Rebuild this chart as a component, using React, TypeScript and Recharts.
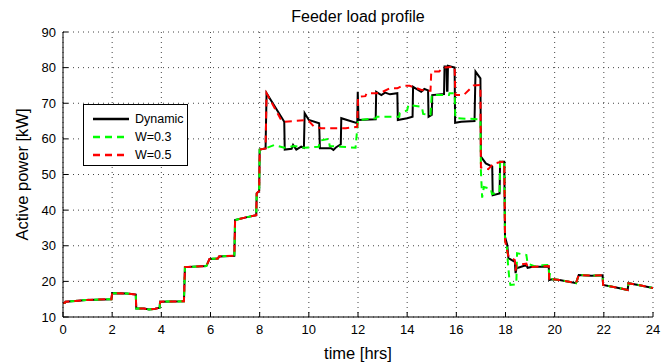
import { LineChart, Line, XAxis, YAxis, CartesianGrid } from 'recharts'

type Pt = [number, number]

// hours on the x axis, kW on the y axis
const hourTicks = [0, 2, 4, 6, 8, 10, 12, 14, 16, 18, 20, 22, 24]
const kwTicks = [10, 20, 30, 40, 50, 60, 70, 80, 90]

// all three strategies give the same load until the morning peak
const sharedMorning: Pt[] = [
    [0, 13.9], [0.08, 14.0], [0.1, 14.3], [0.5, 14.5], [0.95, 14.8], [1.97, 15.0],
    [2.0, 16.7], [2.6, 16.6], [2.96, 16.3], [2.98, 12.4], [3.3, 12.4], [3.5, 12.1],
    [3.75, 12.3], [3.93, 12.6], [3.95, 14.3], [4.92, 14.4], [4.96, 24.0], [5.83, 24.3],
    [5.96, 26.3], [6.3, 26.4], [6.35, 27.0], [6.97, 27.2], [7.0, 37.2], [7.4, 37.9],
    [7.86, 38.6], [7.88, 44.7], [7.98, 45.4], [8.0, 57.0], [8.24, 57.3],
]

const dynamicDay: Pt[] = [
    [8.28, 72.8], [9.0, 64.8], [9.02, 57.0], [9.3, 57.2], [9.36, 58.3], [9.49, 57.0],
    [9.69, 57.8], [9.8, 57.5], [9.83, 67.2], [10.0, 65.3], [10.42, 64.4], [10.45, 57.4],
    [10.9, 57.4], [11.0, 56.9], [11.1, 57.6], [11.3, 58.5], [11.32, 65.8], [11.97, 64.4],
    [11.99, 73.2], [12.02, 65.3], [12.72, 65.5], [12.74, 73.2], [12.95, 72.3], [13.1, 73.0],
    [13.3, 72.5], [13.6, 72.8], [13.62, 65.3], [14.0, 65.8], [14.22, 66.2], [14.24, 74.6],
    [14.57, 73.2], [14.7, 74.0], [14.85, 73.6], [14.87, 66.2], [15.0, 66.7], [15.02, 72.3],
    [15.5, 72.6], [15.52, 80.3], [15.6, 80.3], [15.62, 73.5], [15.64, 73.5], [15.66, 80.5],
    [15.93, 80.0], [15.95, 64.5], [16.2, 64.8], [16.74, 65.0], [16.78, 78.9], [16.98, 77.0],
    [17.0, 55.0], [17.2, 53.1], [17.46, 52.2], [17.48, 44.2], [17.76, 44.7], [17.78, 53.6],
    [17.95, 53.6], [17.98, 32.5], [18.07, 30.2], [18.12, 26.5], [18.38, 25.5], [18.41, 22.3],
    [18.45, 23.7], [18.85, 24.6], [18.9, 23.8], [19.1, 24.1], [19.76, 24.1], [19.78, 20.4],
]

const w03Day: Pt[] = [
    [8.3, 57.5], [8.6, 58.3], [9.0, 57.5], [9.4, 58.0], [9.8, 57.5], [10.4, 57.8],
    [10.45, 59.5], [10.8, 60.0], [10.85, 58.0], [11.3, 57.8], [11.9, 57.5], [12.0, 65.3],
    [12.74, 65.8], [12.76, 66.2], [13.68, 66.2], [13.7, 67.2], [14.0, 68.0], [14.05, 69.5],
    [14.6, 69.0], [14.65, 67.0], [14.95, 66.8], [15.0, 72.3], [15.7, 72.3], [15.72, 72.8],
    [15.93, 72.8], [15.96, 65.8], [16.98, 65.5], [17.0, 51.0], [17.05, 43.5], [17.12, 46.5],
    [17.4, 46.0], [17.45, 44.5], [17.76, 45.0], [17.78, 53.6], [17.95, 53.6], [17.98, 31.0],
    [18.05, 30.5], [18.1, 25.0], [18.16, 20.4], [18.2, 19.0], [18.44, 19.2], [18.47, 27.9],
    [18.85, 27.4], [18.9, 25.0], [19.2, 24.2], [19.5, 24.5], [19.76, 24.6], [19.78, 20.4],
    [19.8, 22.3], [19.86, 20.6],
]

const w05Day: Pt[] = [
    [8.28, 72.8], [8.9, 65.0], [9.0, 64.8], [9.8, 65.2], [10.0, 65.0], [10.2, 63.5],
    [10.5, 63.0], [11.5, 63.0], [11.97, 63.4], [12.0, 71.8], [12.3, 72.0], [12.35, 72.8],
    [12.75, 72.8], [13.0, 73.2], [13.3, 74.2], [13.6, 74.2], [13.8, 74.9], [14.1, 74.9],
    [14.4, 74.2], [14.6, 73.7], [14.95, 73.5], [14.98, 78.9], [15.3, 78.9], [15.45, 80.0],
    [15.93, 80.2], [15.96, 72.3], [16.3, 72.3], [16.7, 75.0], [16.98, 75.1], [17.0, 52.0],
    [17.3, 51.5], [17.5, 53.0], [17.8, 53.5], [17.95, 53.6], [17.98, 31.5], [18.07, 28.5],
    [18.12, 27.0], [18.38, 26.0], [18.41, 23.0], [18.45, 24.5], [18.85, 25.0], [18.9, 24.0],
    [19.76, 24.3], [19.78, 20.2],
]

// evening tail, again common to all three
const sharedEvening: Pt[] = [
    [19.9, 20.6], [20.2, 20.4], [20.87, 19.5], [20.98, 21.8], [21.5, 21.6], [21.95, 21.7],
    [21.97, 19.0], [22.5, 18.3], [22.97, 17.6], [23.0, 19.5], [23.4, 19.0], [24.0, 18.1],
]

const toRows = (day: Pt[]) =>
    [...sharedMorning, ...day, ...sharedEvening].map(([t, kw]) => ({ t, kw }))

// W=0.3 is plotted against the mirrored top/right axes (same domains) so the box gets drawn
const series = [
    { name: 'Dynamic', color: '#000000', dash: undefined, offset: 0, xId: 0, yId: 0, rows: toRows(dynamicDay) },
    { name: 'W=0.3', color: '#00ff00', dash: '7 5', offset: 4, xId: 'top', yId: 'right', rows: toRows(w03Day) },
    { name: 'W=0.5', color: '#ff0000', dash: '7 5', offset: 0, xId: 0, yId: 0, rows: toRows(w05Day) },
]

const font = 'Liberation Sans, Arial, Helvetica, sans-serif'

const LegendBox = () => (
    <div
        style={{
            position: 'absolute',
            left: 83,
            top: 104,
            boxSizing: 'border-box',
            border: '1px solid #000',
            background: '#fff',
            padding: '5px 8px 4px 8px',
            fontFamily: font,
            fontSize: 12.5,
            width: 105,
            height: 62,
        }}
    >
        {series.map((s) => (
            <div key={s.name} style={{ display: 'flex', alignItems: 'center', height: 18 }}>
                <svg width={38} height={10} style={{ marginRight: 5, flexShrink: 0 }}>
                    <line
                        x1={1}
                        y1={5}
                        x2={37}
                        y2={5}
                        stroke={s.color}
                        strokeWidth={2.5}
                        strokeDasharray={s.dash}
                    />
                </svg>
                <span style={{ whiteSpace: 'nowrap' }}>{s.name}</span>
            </div>
        ))}
    </div>
)

export default function App() {
    return (
        <div style={{ position: 'absolute', left: 0, top: 0, width: 665, height: 363, background: '#fff' }}>
            <div
                style={{
                    position: 'absolute',
                    left: 63,
                    width: 590,
                    top: 8,
                    textAlign: 'center',
                    fontFamily: font,
                    fontSize: 16,
                    lineHeight: '18px',
                }}
            >
                Feeder load profile
            </div>
            <LineChart
                width={665}
                height={363}
                margin={{ top: 32, right: 12, bottom: 0, left: 0 }}
                style={{ fontFamily: font }}
            >
                <CartesianGrid stroke='#444' strokeDasharray='1 4' />
                <XAxis
                    type='number'
                    dataKey='t'
                    domain={[0, 24]}
                    ticks={hourTicks}
                    allowDataOverflow
                    height={46}
                    stroke='#000'
                    tickSize={-5}
                    tickMargin={13}
                    tick={{ fill: '#000', fontSize: 13 }}
                    label={{ value: 'time [hrs]', position: 'insideBottom', offset: 4, fill: '#000', fontSize: 16.5 }}
                />
                <XAxis
                    xAxisId='top'
                    orientation='top'
                    type='number'
                    dataKey='t'
                    domain={[0, 24]}
                    ticks={hourTicks}
                    allowDataOverflow
                    height={0}
                    stroke='#000'
                    tickSize={-5}
                    tick={false}
                />
                <YAxis
                    type='number'
                    domain={[10, 90]}
                    ticks={kwTicks}
                    allowDataOverflow
                    width={63}
                    stroke='#000'
                    tickSize={-5}
                    tickMargin={12}
                    tick={{ fill: '#000', fontSize: 13 }}
                    label={{
                        value: 'Active power [kW]',
                        angle: -90,
                        position: 'insideLeft',
                        offset: 22,
                        fill: '#000',
                        fontSize: 16.5,
                        style: { textAnchor: 'middle' },
                    }}
                />
                <YAxis
                    yAxisId='right'
                    orientation='right'
                    type='number'
                    domain={[10, 90]}
                    ticks={kwTicks}
                    allowDataOverflow
                    width={0}
                    stroke='#000'
                    tickSize={-5}
                    tick={false}
                />
                {series.map((s) => (
                    <Line
                        key={s.name}
                        name={s.name}
                        data={s.rows}
                        dataKey='kw'
                        xAxisId={s.xId}
                        yAxisId={s.yId}
                        type='linear'
                        stroke={s.color}
                        strokeWidth={2}
                        strokeDasharray={s.dash}
                        strokeDashoffset={s.offset}
                        dot={false}
                        activeDot={false}
                        isAnimationActive={false}
                    />
                ))}
            </LineChart>
            <LegendBox />
        </div>
    )
}
